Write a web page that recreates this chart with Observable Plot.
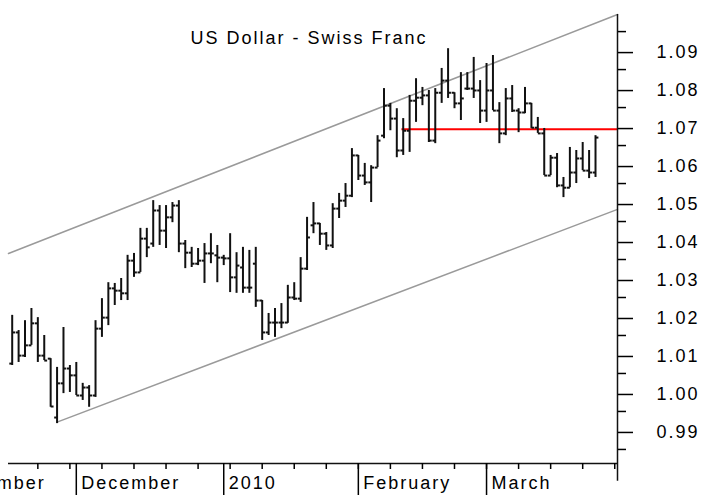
<!DOCTYPE html>
<html><head><meta charset="utf-8">
<script src="https://cdn.jsdelivr.net/npm/d3@7"></script>
<script src="https://cdn.jsdelivr.net/npm/@observablehq/plot@0.6"></script>
<style>
html,body{margin:0;padding:0;background:#fff;overflow:hidden;}
#chart{width:707px;height:497px;overflow:hidden;position:relative;}
</style></head><body><div id="chart"></div>
<script>
const title = "US Dollar - Swiss Franc";
// daily bars, Nov 17 2009 .. Mar 24 2010 (trading-day index 1..92)
const high = [1.0203,1.0163,1.0189,1.0221,1.0197,1.0150,1.0089,1.0066,1.0171,1.0071,
1.0079,1.0024,1.0018,1.0189,1.0247,1.0289,1.0287,1.0300,1.0361,1.0366,
1.0432,1.0432,1.0505,1.0492,1.0492,1.0500,1.0505,1.0400,1.0382,1.0379,
1.0392,1.0418,1.0387,1.0361,1.0418,1.0368,1.0382,1.0374,1.0382,1.0242,
1.0208,1.0221,1.0234,1.0282,1.0289,1.0355,1.0461,1.0500,1.0445,1.0421,
1.0497,1.0524,1.0550,1.0642,1.0624,1.0603,1.0597,1.0676,1.0800,1.0761,
1.0747,1.0721,1.0782,1.0826,1.0803,1.0795,1.0800,1.0853,1.0905,1.0789,
1.0842,1.0842,1.0882,1.0821,1.0866,1.0887,1.0763,1.0800,1.0808,1.0747,
1.0803,1.0761,1.0724,1.0695,1.0624,1.0629,1.0566,1.0645,1.0637,1.0658,
1.0637,1.0676];
const low = [1.0071,1.0079,1.0092,1.0124,1.0079,1.0084,0.9961,0.9918,0.9997,1.0000,
0.9992,0.9979,0.9961,0.9987,1.0145,1.0176,1.0229,1.0242,1.0242,1.0303,
1.0316,1.0355,1.0382,1.0387,1.0379,1.0447,1.0368,1.0326,1.0329,1.0334,
1.0287,1.0339,1.0289,1.0334,1.0263,1.0261,1.0261,1.0261,1.0224,1.0137,
1.0150,1.0145,1.0168,1.0182,1.0242,1.0237,1.0321,1.0418,1.0387,1.0374,
1.0379,1.0458,1.0487,1.0513,1.0558,1.0545,1.0500,1.0592,1.0668,1.0689,
1.0618,1.0624,1.0632,1.0711,1.0755,1.0658,1.0655,1.0761,1.0774,1.0747,
1.0716,1.0795,1.0774,1.0708,1.0711,1.0742,1.0655,1.0676,1.0737,1.0684,
1.0734,1.0695,1.0682,1.0571,1.0571,1.0539,1.0513,1.0539,1.0550,1.0584,
1.0563,1.0566];
const open = [1.0076,1.0158,1.0097,1.0124,1.0182,1.0097,1.0089,0.9934,1.0024,1.0063,
1.0045,0.9992,1.0013,0.9992,1.0168,1.0197,1.0274,1.0268,1.0261,1.0347,
1.0316,1.0405,1.0392,1.0479,1.0426,1.0461,1.0492,1.0392,1.0368,1.0339,
1.0347,1.0366,1.0361,1.0355,1.0353,1.0303,1.0329,1.0276,1.0339,1.0242,
1.0158,1.0184,1.0184,1.0184,1.0250,1.0247,1.0326,1.0440,1.0445,1.0418,
1.0387,1.0484,1.0505,1.0518,1.0624,1.0571,1.0553,1.0592,1.0676,1.0755,
1.0721,1.0637,1.0689,1.0768,1.0776,1.0782,1.0663,1.0789,1.0821,1.0789,
1.0761,1.0800,1.0800,1.0795,1.0742,1.0795,1.0742,1.0682,1.0774,1.0742,
1.0737,1.0761,1.0697,1.0682,1.0571,1.0618,1.0545,1.0539,1.0579,1.0616,
1.0584,1.0579];
const close = [1.0158,1.0097,1.0124,1.0182,1.0097,1.0084,0.9963,1.0024,1.0063,1.0045,
0.9992,1.0013,0.9992,1.0168,1.0197,1.0274,1.0268,1.0261,1.0347,1.0316,
1.0405,1.0382,1.0479,1.0426,1.0461,1.0492,1.0392,1.0368,1.0339,1.0347,
1.0366,1.0366,1.0355,1.0353,1.0303,1.0334,1.0276,1.0276,1.0242,1.0158,
1.0184,1.0184,1.0184,1.0250,1.0247,1.0326,1.0408,1.0445,1.0418,1.0387,
1.0484,1.0505,1.0518,1.0624,1.0571,1.0553,1.0592,1.0663,1.0755,1.0721,
1.0637,1.0689,1.0768,1.0776,1.0782,1.0663,1.0789,1.0821,1.0789,1.0761,
1.0774,1.0800,1.0795,1.0742,1.0795,1.0742,1.0682,1.0774,1.0742,1.0737,
1.0761,1.0697,1.0682,1.0571,1.0618,1.0545,1.0539,1.0579,1.0616,1.0584,
1.0579,1.0671];

const monthLabels = ["November", "December", "2010", "February", "March"];
const monthStarts = [-10, 11, 34, 55, 75];      // trading-day index of the 1st of each month
const weekTicks = [5,10,15,20,25,30,35,40,45,50,55,60,65,70,75,80,85,90,95]; // Mondays
const yTicks = [0.99,1.00,1.01,1.02,1.03,1.04,1.05,1.06,1.07,1.08,1.09];
const yMinorTicks = [0.985,0.995,1.005,1.015,1.025,1.035,1.045,1.055,1.065,1.075,1.085,1.095];
const channelUpper = [[0.42, 1.0366], [95.43, 1.0995]];
const channelLower = [[8.0, 0.9922], [95.43, 1.0482]];
const redLevel = [1.0693];
const redStart = 61.8;

const xDomain = [-0.825, 95.43];
const yDomain = [0.9813, 1.0995];

const bars = high.map((h, i) => ({i: i + 1, high: h, low: low[i], open: open[i], close: close[i]}));
const ink = "#111";

const chart = Plot.plot({
  width: 707, height: 497,
  marginLeft: 0, marginRight: 90, marginTop: 14, marginBottom: 34,
  x: {domain: xDomain, label: null},
  y: {domain: yDomain, label: null},
  style: {fontFamily: "'Liberation Sans', Arial, sans-serif", fontSize: "18px", letterSpacing: "2px", background: "white", color: "#000"},
  marks: [
    Plot.line(channelUpper, {x: d => d[0], y: d => d[1], stroke: "#9a9a9a", strokeWidth: 1.5}),
    Plot.line(channelLower, {x: d => d[0], y: d => d[1], stroke: "#9a9a9a", strokeWidth: 1.5}),
    Plot.ruleY(redLevel, {x1: redStart, x2: xDomain[1], stroke: "#ff0000", strokeWidth: 2}),
    Plot.ruleX(bars, {x: "i", y1: "low", y2: "high", stroke: ink, strokeWidth: 2}),
    Plot.link(bars, {x1: d => d.i - 0.45, x2: "i", y1: "open", y2: "open", stroke: ink, strokeWidth: 2}),
    Plot.link(bars, {x1: "i", x2: d => d.i + 0.45, y1: "close", y2: "close", stroke: ink, strokeWidth: 2}),
    // axes
    Plot.ruleX([xDomain[1]], {y1: 0.9766, y2: yDomain[1], stroke: ink, strokeWidth: 1.5}),
    Plot.ruleY([yDomain[0]], {x1: 0.423, x2: xDomain[1], stroke: ink, strokeWidth: 1.5}),
    Plot.axisY(yMinorTicks, {anchor: "right", tickSize: 8, tickFormat: () => "", label: null, strokeWidth: 1.5}),
    Plot.axisY(yTicks, {anchor: "right", tickSize: 15, tickPadding: 24, tickFormat: d3.format(".2f"), label: null, strokeWidth: 1.5, dy: 2}),
    Plot.axisX(weekTicks, {anchor: "bottom", tickSize: 6, tickFormat: () => "", label: null, strokeWidth: 1.5}),
    Plot.axisX(monthStarts, {anchor: "bottom", tickSize: 32, tickFormat: () => "", label: null, strokeWidth: 1.5}),
    Plot.text(monthLabels, {x: (d, i) => monthStarts[i], text: d => d, frameAnchor: "bottom", dy: 20, dx: 5, textAnchor: "start", lineAnchor: "middle"}),
    Plot.text([title], {text: d => d, frameAnchor: "top", dy: 24, lineAnchor: "middle"})
  ]
});
document.getElementById("chart").appendChild(chart);
</script></body></html>
